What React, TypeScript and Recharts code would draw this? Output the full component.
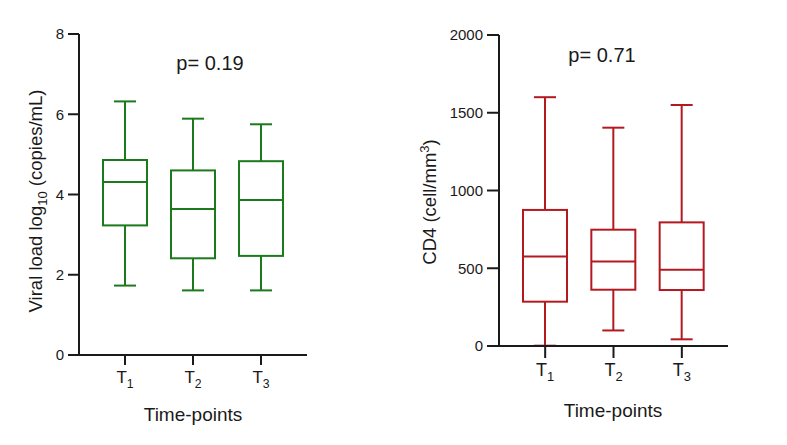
import React from 'react';
import { ComposedChart, Bar, XAxis, YAxis } from 'recharts';

// time-points (subscript index of T)
const timePoints = ['T1', 'T2', 'T3'];

// viral load log10 (copies/mL)
const viralMin = [1.73, 1.61, 1.61];
const viralQ1 = [3.23, 2.41, 2.47];
const viralMedian = [4.31, 3.64, 3.86];
const viralQ3 = [4.86, 4.6, 4.83];
const viralMax = [6.32, 5.89, 5.75];
const viralTicks = [0, 2, 4, 6, 8];

// CD4 (cell/mm3)
const cd4Min = [2, 100, 43];
const cd4Q1 = [285, 362, 360];
const cd4Median = [576, 544, 491];
const cd4Q3 = [875, 748, 795];
const cd4Max = [1600, 1404, 1550];
const cd4Ticks = [0, 500, 1000, 1500, 2000];

const FONT = '"Liberation Sans", Arial, sans-serif';
const GREEN = '#1b7a1b';
const RED = '#b3191f';
const AXIS = '#1a1a1a';

const buildRows = (min: number[], q1: number[], med: number[], q3: number[], max: number[]) =>
  timePoints.map((name, i) => ({
    name,
    min: min[i],
    q1: q1[i],
    median: med[i],
    q3: q3[i],
    max: max[i],
  }));

const viralData = buildRows(viralMin, viralQ1, viralMedian, viralQ3, viralMax);
const cd4Data = buildRows(cd4Min, cd4Q1, cd4Median, cd4Q3, cd4Max);

// box + whiskers drawn from the range bar [min, max]
const makeBoxShape = (color: string) => (props: any) => {
  const { x, y, width, height, payload } = props;
  if (!payload) return null;
  const top = Math.min(y, y + height);
  const bottom = Math.max(y, y + height);
  const span = payload.max - payload.min;
  const py = (v: number) => bottom - ((v - payload.min) / span) * (bottom - top);
  const cx = x + width / 2;
  const cap = width / 4;
  const sw = 2;
  return (
    <g stroke={color} strokeWidth={sw} fill="none">
      <line x1={cx} x2={cx} y1={py(payload.max)} y2={py(payload.q3)} />
      <line x1={cx} x2={cx} y1={py(payload.q1)} y2={py(payload.min)} />
      <line x1={cx - cap} x2={cx + cap} y1={py(payload.max)} y2={py(payload.max)} />
      <line x1={cx - cap} x2={cx + cap} y1={py(payload.min)} y2={py(payload.min)} />
      <rect x={x} y={py(payload.q3)} width={width} height={py(payload.q1) - py(payload.q3)} fill="#fff" />
      <line x1={x} x2={x + width} y1={py(payload.median)} y2={py(payload.median)} />
    </g>
  );
};

const makeTimeTick = (size: number) => (props: any) => {
  const { x, y, payload } = props;
  const label: string = payload.value;
  return (
    <text x={x} y={y} dy="0.71em" textAnchor="middle" fontFamily={FONT} fontSize={size} fill={AXIS}>
      <tspan>{label.slice(0, 1)}</tspan>
      <tspan fontSize={size * 0.72} dy={size * 0.3}>{label.slice(1)}</tspan>
    </text>
  );
};

// rotated y-axis titles, placed in the chart's own svg coordinates
const ViralLabel = () => (
  <text
    transform="translate(42,201) rotate(-90)"
    textAnchor="middle"
    fontFamily={FONT}
    fontSize={18.5}
    fill={AXIS}
  >
    <tspan>Viral load log</tspan>
    <tspan fontSize={13} dy={5}>10</tspan>
    <tspan dy={-5}> (copies/mL)</tspan>
  </text>
);

const Cd4Label = () => (
  <text
    transform="translate(36,202) rotate(-90)"
    textAnchor="middle"
    fontFamily={FONT}
    fontSize={18.5}
    fill={AXIS}
  >
    <tspan>CD4 (cell/mm</tspan>
    <tspan fontSize={13} dy={-7}>3</tspan>
    <tspan dy={7}>)</tspan>
  </text>
);

const pStyle: React.CSSProperties = {
  position: 'absolute',
  fontFamily: FONT,
  fontSize: 20,
  color: AXIS,
  whiteSpace: 'nowrap',
  transform: 'translateX(-50%)',
};

const xLabelStyle: React.CSSProperties = {
  position: 'absolute',
  fontFamily: FONT,
  fontSize: 19,
  color: AXIS,
  whiteSpace: 'nowrap',
  transform: 'translateX(-50%)',
};

export default function App() {
  return (
    <div style={{ position: 'absolute', left: 0, top: 0, width: 787, height: 445, background: '#fff' }}>
      <div style={{ position: 'absolute', left: 0, top: 0 }}>
        <ComposedChart
          width={330}
          height={445}
          data={viralData}
          margin={{ top: 34, right: 23, bottom: 30, left: 19 }}
        >
          <XAxis
            dataKey="name"
            height={60}
            padding={{ left: 12, right: 12 }}
            axisLine={{ stroke: AXIS, strokeWidth: 2 }}
            tickLine={{ stroke: AXIS, strokeWidth: 2 }}
            tickSize={10}
            tickMargin={6}
            tick={makeTimeTick(17)}
          />
          <YAxis
            width={60}
            domain={[0, 8]}
            ticks={viralTicks}
            axisLine={{ stroke: AXIS, strokeWidth: 2 }}
            tickLine={{ stroke: AXIS, strokeWidth: 2 }}
            tickSize={11}
            tickMargin={4}
            tick={{ fill: AXIS, fontSize: 15, fontFamily: FONT }}
            label={{ content: ViralLabel }}
          />
          <Bar
            dataKey={(d: any) => [d.min, d.max]}
            barSize={44}
            shape={makeBoxShape(GREEN)}
            isAnimationActive={false}
          />
        </ComposedChart>
      </div>
      <div style={{ ...pStyle, left: 210, top: 52 }}>p= 0.19</div>
      <div style={{ ...xLabelStyle, left: 193, top: 404 }}>Time-points</div>

      <div style={{ position: 'absolute', left: 400, top: 0 }}>
        <ComposedChart
          width={350}
          height={445}
          data={cd4Data}
          margin={{ top: 35, right: 22, bottom: 39, left: 39 }}
        >
          <XAxis
            dataKey="name"
            height={60}
            padding={{ left: 12, right: 12 }}
            axisLine={{ stroke: AXIS, strokeWidth: 2 }}
            tickLine={{ stroke: AXIS, strokeWidth: 2 }}
            tickSize={12}
            tickMargin={5}
            tick={makeTimeTick(18)}
          />
          <YAxis
            width={60}
            domain={[0, 2000]}
            ticks={cd4Ticks}
            axisLine={{ stroke: AXIS, strokeWidth: 2 }}
            tickLine={{ stroke: AXIS, strokeWidth: 2 }}
            tickSize={12}
            tickMargin={4}
            tick={{ fill: AXIS, fontSize: 15, fontFamily: FONT }}
            label={{ content: Cd4Label }}
          />
          <Bar
            dataKey={(d: any) => [d.min, d.max]}
            barSize={44}
            shape={makeBoxShape(RED)}
            isAnimationActive={false}
          />
        </ComposedChart>
      </div>
      <div style={{ ...pStyle, left: 602, top: 44 }}>p= 0.71</div>
      <div style={{ ...xLabelStyle, left: 613, top: 400 }}>Time-points</div>
    </div>
  );
}
